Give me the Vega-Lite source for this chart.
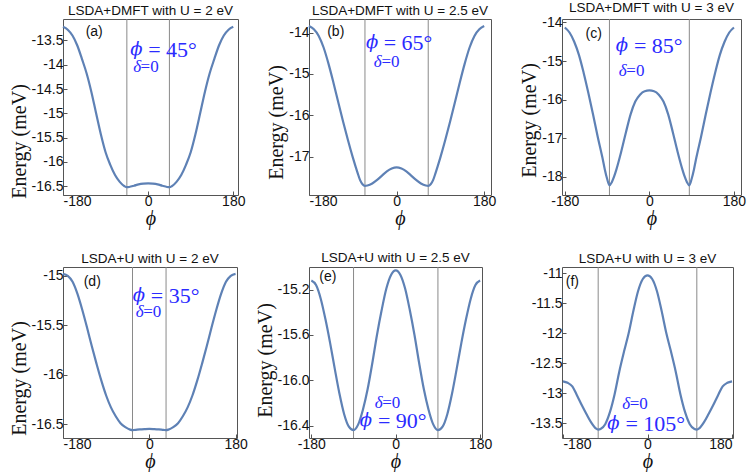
{
"$schema": "https://vega.github.io/schema/vega-lite/v6.json",
"background": "white",
"padding": {"left": 8, "top": 0, "right": 0, "bottom": 0},
"datasets": {"d": [
{"p":"a","k":"c","x":-180,"y":-13.22},{"p":"a","k":"c","x":-170,"y":-13.28},{"p":"a","k":"c","x":-160,"y":-13.40},{"p":"a","k":"c","x":-150,"y":-13.60},{"p":"a","k":"c","x":-140,"y":-13.88},{"p":"a","k":"c","x":-130,"y":-14.18},{"p":"a","k":"c","x":-120,"y":-14.56},{"p":"a","k":"c","x":-110,"y":-15.00},{"p":"a","k":"c","x":-100,"y":-15.43},{"p":"a","k":"c","x":-90,"y":-15.80},{"p":"a","k":"c","x":-80,"y":-16.06},{"p":"a","k":"c","x":-70,"y":-16.27},{"p":"a","k":"c","x":-60,"y":-16.41},{"p":"a","k":"c","x":-50,"y":-16.50},{"p":"a","k":"c","x":-45,"y":-16.52},{"p":"a","k":"c","x":-40,"y":-16.515},{"p":"a","k":"c","x":-30,"y":-16.49},{"p":"a","k":"c","x":-20,"y":-16.46},{"p":"a","k":"c","x":-10,"y":-16.445},{"p":"a","k":"c","x":0,"y":-16.44},{"p":"a","k":"c","x":10,"y":-16.445},{"p":"a","k":"c","x":20,"y":-16.46},{"p":"a","k":"c","x":30,"y":-16.49},{"p":"a","k":"c","x":40,"y":-16.515},{"p":"a","k":"c","x":45,"y":-16.52},{"p":"a","k":"c","x":50,"y":-16.50},{"p":"a","k":"c","x":60,"y":-16.41},{"p":"a","k":"c","x":70,"y":-16.27},{"p":"a","k":"c","x":80,"y":-16.06},{"p":"a","k":"c","x":90,"y":-15.80},{"p":"a","k":"c","x":100,"y":-15.43},{"p":"a","k":"c","x":110,"y":-15.00},{"p":"a","k":"c","x":120,"y":-14.56},{"p":"a","k":"c","x":130,"y":-14.18},{"p":"a","k":"c","x":140,"y":-13.88},{"p":"a","k":"c","x":150,"y":-13.60},{"p":"a","k":"c","x":160,"y":-13.40},{"p":"a","k":"c","x":170,"y":-13.28},{"p":"a","k":"c","x":180,"y":-13.22},
{"p":"b","k":"c","x":-180,"y":-13.84},{"p":"b","k":"c","x":-170,"y":-13.92},{"p":"b","k":"c","x":-160,"y":-14.08},{"p":"b","k":"c","x":-150,"y":-14.36},{"p":"b","k":"c","x":-140,"y":-14.75},{"p":"b","k":"c","x":-130,"y":-15.20},{"p":"b","k":"c","x":-120,"y":-15.68},{"p":"b","k":"c","x":-110,"y":-16.15},{"p":"b","k":"c","x":-100,"y":-16.60},{"p":"b","k":"c","x":-90,"y":-17.02},{"p":"b","k":"c","x":-80,"y":-17.40},{"p":"b","k":"c","x":-75,"y":-17.57},{"p":"b","k":"c","x":-70,"y":-17.67},{"p":"b","k":"c","x":-65,"y":-17.71},{"p":"b","k":"c","x":-60,"y":-17.70},{"p":"b","k":"c","x":-50,"y":-17.65},{"p":"b","k":"c","x":-40,"y":-17.565},{"p":"b","k":"c","x":-30,"y":-17.46},{"p":"b","k":"c","x":-20,"y":-17.36},{"p":"b","k":"c","x":-10,"y":-17.29},{"p":"b","k":"c","x":0,"y":-17.26},{"p":"b","k":"c","x":10,"y":-17.29},{"p":"b","k":"c","x":20,"y":-17.36},{"p":"b","k":"c","x":30,"y":-17.46},{"p":"b","k":"c","x":40,"y":-17.565},{"p":"b","k":"c","x":50,"y":-17.65},{"p":"b","k":"c","x":60,"y":-17.70},{"p":"b","k":"c","x":65,"y":-17.71},{"p":"b","k":"c","x":70,"y":-17.67},{"p":"b","k":"c","x":75,"y":-17.57},{"p":"b","k":"c","x":80,"y":-17.40},{"p":"b","k":"c","x":90,"y":-17.02},{"p":"b","k":"c","x":100,"y":-16.60},{"p":"b","k":"c","x":110,"y":-16.15},{"p":"b","k":"c","x":120,"y":-15.68},{"p":"b","k":"c","x":130,"y":-15.20},{"p":"b","k":"c","x":140,"y":-14.75},{"p":"b","k":"c","x":150,"y":-14.36},{"p":"b","k":"c","x":160,"y":-14.08},{"p":"b","k":"c","x":170,"y":-13.92},{"p":"b","k":"c","x":180,"y":-13.84},
{"p":"c","k":"c","x":-180,"y":-14.13},{"p":"c","k":"c","x":-170,"y":-14.26},{"p":"c","k":"c","x":-160,"y":-14.50},{"p":"c","k":"c","x":-150,"y":-14.84},{"p":"c","k":"c","x":-140,"y":-15.30},{"p":"c","k":"c","x":-130,"y":-15.82},{"p":"c","k":"c","x":-120,"y":-16.38},{"p":"c","k":"c","x":-110,"y":-16.96},{"p":"c","k":"c","x":-100,"y":-17.50},{"p":"c","k":"c","x":-95,"y":-17.80},{"p":"c","k":"c","x":-90,"y":-18.05},{"p":"c","k":"c","x":-85,"y":-18.22},{"p":"c","k":"c","x":-80,"y":-18.14},{"p":"c","k":"c","x":-75,"y":-17.99},{"p":"c","k":"c","x":-70,"y":-17.80},{"p":"c","k":"c","x":-60,"y":-17.35},{"p":"c","k":"c","x":-50,"y":-16.85},{"p":"c","k":"c","x":-40,"y":-16.38},{"p":"c","k":"c","x":-30,"y":-16.05},{"p":"c","k":"c","x":-20,"y":-15.87},{"p":"c","k":"c","x":-10,"y":-15.78},{"p":"c","k":"c","x":0,"y":-15.76},{"p":"c","k":"c","x":10,"y":-15.78},{"p":"c","k":"c","x":20,"y":-15.87},{"p":"c","k":"c","x":30,"y":-16.05},{"p":"c","k":"c","x":40,"y":-16.38},{"p":"c","k":"c","x":50,"y":-16.85},{"p":"c","k":"c","x":60,"y":-17.35},{"p":"c","k":"c","x":70,"y":-17.80},{"p":"c","k":"c","x":75,"y":-17.99},{"p":"c","k":"c","x":80,"y":-18.14},{"p":"c","k":"c","x":85,"y":-18.22},{"p":"c","k":"c","x":90,"y":-18.05},{"p":"c","k":"c","x":95,"y":-17.80},{"p":"c","k":"c","x":100,"y":-17.50},{"p":"c","k":"c","x":110,"y":-16.96},{"p":"c","k":"c","x":120,"y":-16.38},{"p":"c","k":"c","x":130,"y":-15.82},{"p":"c","k":"c","x":140,"y":-15.30},{"p":"c","k":"c","x":150,"y":-14.84},{"p":"c","k":"c","x":160,"y":-14.50},{"p":"c","k":"c","x":170,"y":-14.26},{"p":"c","k":"c","x":180,"y":-14.13},
{"p":"d","k":"c","x":-180,"y":-14.98},{"p":"d","k":"c","x":-170,"y":-15.00},{"p":"d","k":"c","x":-160,"y":-15.06},{"p":"d","k":"c","x":-150,"y":-15.18},{"p":"d","k":"c","x":-140,"y":-15.34},{"p":"d","k":"c","x":-130,"y":-15.52},{"p":"d","k":"c","x":-120,"y":-15.71},{"p":"d","k":"c","x":-110,"y":-15.89},{"p":"d","k":"c","x":-100,"y":-16.06},{"p":"d","k":"c","x":-90,"y":-16.21},{"p":"d","k":"c","x":-80,"y":-16.33},{"p":"d","k":"c","x":-70,"y":-16.42},{"p":"d","k":"c","x":-60,"y":-16.49},{"p":"d","k":"c","x":-50,"y":-16.53},{"p":"d","k":"c","x":-40,"y":-16.555},{"p":"d","k":"c","x":-35,"y":-16.56},{"p":"d","k":"c","x":-30,"y":-16.558},{"p":"d","k":"c","x":-20,"y":-16.553},{"p":"d","k":"c","x":-10,"y":-16.55},{"p":"d","k":"c","x":0,"y":-16.548},{"p":"d","k":"c","x":10,"y":-16.55},{"p":"d","k":"c","x":20,"y":-16.553},{"p":"d","k":"c","x":30,"y":-16.558},{"p":"d","k":"c","x":35,"y":-16.56},{"p":"d","k":"c","x":40,"y":-16.555},{"p":"d","k":"c","x":50,"y":-16.53},{"p":"d","k":"c","x":60,"y":-16.49},{"p":"d","k":"c","x":70,"y":-16.42},{"p":"d","k":"c","x":80,"y":-16.33},{"p":"d","k":"c","x":90,"y":-16.21},{"p":"d","k":"c","x":100,"y":-16.06},{"p":"d","k":"c","x":110,"y":-15.89},{"p":"d","k":"c","x":120,"y":-15.71},{"p":"d","k":"c","x":130,"y":-15.52},{"p":"d","k":"c","x":140,"y":-15.34},{"p":"d","k":"c","x":150,"y":-15.18},{"p":"d","k":"c","x":160,"y":-15.06},{"p":"d","k":"c","x":170,"y":-15.00},{"p":"d","k":"c","x":180,"y":-14.98},
{"p":"e","k":"c","x":-180,"y":-15.12},{"p":"e","k":"c","x":-170,"y":-15.16},{"p":"e","k":"c","x":-160,"y":-15.28},{"p":"e","k":"c","x":-150,"y":-15.46},{"p":"e","k":"c","x":-140,"y":-15.67},{"p":"e","k":"c","x":-130,"y":-15.90},{"p":"e","k":"c","x":-120,"y":-16.12},{"p":"e","k":"c","x":-110,"y":-16.30},{"p":"e","k":"c","x":-100,"y":-16.41},{"p":"e","k":"c","x":-90,"y":-16.44},{"p":"e","k":"c","x":-80,"y":-16.39},{"p":"e","k":"c","x":-70,"y":-16.26},{"p":"e","k":"c","x":-60,"y":-16.08},{"p":"e","k":"c","x":-50,"y":-15.85},{"p":"e","k":"c","x":-40,"y":-15.60},{"p":"e","k":"c","x":-30,"y":-15.38},{"p":"e","k":"c","x":-20,"y":-15.19},{"p":"e","k":"c","x":-10,"y":-15.07},{"p":"e","k":"c","x":0,"y":-15.03},{"p":"e","k":"c","x":10,"y":-15.07},{"p":"e","k":"c","x":20,"y":-15.19},{"p":"e","k":"c","x":30,"y":-15.38},{"p":"e","k":"c","x":40,"y":-15.60},{"p":"e","k":"c","x":50,"y":-15.85},{"p":"e","k":"c","x":60,"y":-16.08},{"p":"e","k":"c","x":70,"y":-16.26},{"p":"e","k":"c","x":80,"y":-16.39},{"p":"e","k":"c","x":90,"y":-16.44},{"p":"e","k":"c","x":100,"y":-16.41},{"p":"e","k":"c","x":110,"y":-16.30},{"p":"e","k":"c","x":120,"y":-16.12},{"p":"e","k":"c","x":130,"y":-15.90},{"p":"e","k":"c","x":140,"y":-15.67},{"p":"e","k":"c","x":150,"y":-15.46},{"p":"e","k":"c","x":160,"y":-15.28},{"p":"e","k":"c","x":170,"y":-15.16},{"p":"e","k":"c","x":180,"y":-15.12},
{"p":"f","k":"c","x":-180,"y":-12.805},{"p":"f","k":"c","x":-170,"y":-12.83},{"p":"f","k":"c","x":-160,"y":-12.89},{"p":"f","k":"c","x":-150,"y":-13.04},{"p":"f","k":"c","x":-140,"y":-13.20},{"p":"f","k":"c","x":-130,"y":-13.35},{"p":"f","k":"c","x":-120,"y":-13.49},{"p":"f","k":"c","x":-110,"y":-13.59},{"p":"f","k":"c","x":-105,"y":-13.61},{"p":"f","k":"c","x":-100,"y":-13.60},{"p":"f","k":"c","x":-90,"y":-13.52},{"p":"f","k":"c","x":-80,"y":-13.32},{"p":"f","k":"c","x":-70,"y":-13.02},{"p":"f","k":"c","x":-60,"y":-12.64},{"p":"f","k":"c","x":-50,"y":-12.31},{"p":"f","k":"c","x":-40,"y":-12.00},{"p":"f","k":"c","x":-30,"y":-11.63},{"p":"f","k":"c","x":-20,"y":-11.30},{"p":"f","k":"c","x":-10,"y":-11.10},{"p":"f","k":"c","x":0,"y":-11.04},{"p":"f","k":"c","x":10,"y":-11.10},{"p":"f","k":"c","x":20,"y":-11.30},{"p":"f","k":"c","x":30,"y":-11.63},{"p":"f","k":"c","x":40,"y":-12.00},{"p":"f","k":"c","x":50,"y":-12.31},{"p":"f","k":"c","x":60,"y":-12.64},{"p":"f","k":"c","x":70,"y":-13.02},{"p":"f","k":"c","x":80,"y":-13.32},{"p":"f","k":"c","x":90,"y":-13.52},{"p":"f","k":"c","x":100,"y":-13.60},{"p":"f","k":"c","x":105,"y":-13.61},{"p":"f","k":"c","x":110,"y":-13.59},{"p":"f","k":"c","x":120,"y":-13.49},{"p":"f","k":"c","x":130,"y":-13.35},{"p":"f","k":"c","x":140,"y":-13.20},{"p":"f","k":"c","x":150,"y":-13.04},{"p":"f","k":"c","x":160,"y":-12.89},{"p":"f","k":"c","x":170,"y":-12.83},{"p":"f","k":"c","x":180,"y":-12.805},
{"p":"a","k":"v","x":-45,"y":-16.68,"y2":-13.06},{"p":"a","k":"v","x":45,"y":-16.68,"y2":-13.06},
{"p":"b","k":"v","x":-65,"y":-17.93,"y2":-13.67},{"p":"b","k":"v","x":65,"y":-17.93,"y2":-13.67},
{"p":"c","k":"v","x":-85,"y":-18.47,"y2":-13.91},{"p":"c","k":"v","x":85,"y":-18.47,"y2":-13.91},
{"p":"d","k":"v","x":-35,"y":-16.64,"y2":-14.91},{"p":"d","k":"v","x":35,"y":-16.64,"y2":-14.91},
{"p":"e","k":"v","x":-90,"y":-16.51,"y2":-15.0},{"p":"e","k":"v","x":90,"y":-16.51,"y2":-15.0},
{"p":"f","k":"v","x":-105,"y":-13.75,"y2":-10.90},{"p":"f","k":"v","x":105,"y":-13.75,"y2":-10.90},
{"p":"a","k":"l","x":-114,"y":-13.33,"t":"(a)"},{"p":"a","k":"ps","x":-38,"y":-13.69,"t":"ϕ"},{"p":"a","k":"pr","x":0,"y":-13.69,"t":"= 45°"},{"p":"a","k":"ds","x":-31.6,"y":-14.05,"t":"δ"},{"p":"a","k":"dr","x":-16,"y":-14.05,"t":"=0"},
{"p":"b","k":"l","x":-125,"y":-13.99,"t":"(b)"},{"p":"b","k":"ps","x":-63,"y":-14.26,"t":"ϕ"},{"p":"b","k":"pr","x":-26.6,"y":-14.26,"t":"= 65°"},{"p":"b","k":"ds","x":-47,"y":-14.71,"t":"δ"},{"p":"b","k":"dr","x":-31,"y":-14.71,"t":"=0"},
{"p":"c","k":"l","x":-118.6,"y":-14.30,"t":"(c)"},{"p":"c","k":"ps","x":-71.5,"y":-14.60,"t":"ϕ"},{"p":"c","k":"pr","x":-33,"y":-14.60,"t":"= 85°"},{"p":"c","k":"ds","x":-65,"y":-15.26,"t":"δ"},{"p":"c","k":"dr","x":-49,"y":-15.26,"t":"=0"},
{"p":"d","k":"l","x":-119,"y":-15.06,"t":"(d)"},{"p":"d","k":"ps","x":-34.5,"y":-15.20,"t":"ϕ"},{"p":"d","k":"pr","x":3,"y":-15.20,"t":"= 35°"},{"p":"d","k":"ds","x":-28.3,"y":-15.37,"t":"δ"},{"p":"d","k":"dr","x":-12.6,"y":-15.37,"t":"=0"},
{"p":"e","k":"l","x":-144.8,"y":-15.09,"t":"(e)"},{"p":"e","k":"ds","x":-45,"y":-16.20,"t":"δ"},{"p":"e","k":"dr","x":-29,"y":-16.20,"t":"=0"},{"p":"e","k":"ps","x":-76.5,"y":-16.36,"t":"ϕ"},{"p":"e","k":"pr","x":-38,"y":-16.36,"t":"= 90°"},
{"p":"f","k":"l","x":-160,"y":-11.15,"t":"(f)"},{"p":"f","k":"ds","x":-54,"y":-13.19,"t":"δ"},{"p":"f","k":"dr","x":-38,"y":-13.19,"t":"=0"},{"p":"f","k":"ps","x":-85.5,"y":-13.52,"t":"ϕ"},{"p":"f","k":"pr","x":-47,"y":-13.52,"t":"= 105°"}
]},
"data": {"name": "d"},
"columns": 3,
"spacing": {"row": 72, "column": 71},
"bounds": "flush",
"concat": [
{"title": "LSDA+DMFT with U = 2 eV", "width": 175, "height": 176,
 "transform": [{"filter": "datum.p=='a'"}],
 "encoding": {"x": {"field": "x", "type": "quantitative", "scale": {"domain": [-180, 190], "nice": false, "zero": false}, "axis": {"values": [-180, 0, 180], "title": "ϕ"}},
  "y": {"field": "y", "type": "quantitative", "scale": {"domain": [-16.68, -13.06], "nice": false, "zero": false}, "axis": {"values": [-13.5, -14, -14.5, -15, -15.5, -16, -16.5], "format": "~g", "title": "Energy (meV)", "titleY": 122}}},
 "layer": [
  {"transform": [{"filter": "datum.k=='v'"}], "mark": {"type": "rule", "color": "#8a8a8a", "strokeWidth": 1}, "encoding": {"y2": {"field": "y2"}}},
  {"transform": [{"filter": "datum.k=='c'"}], "mark": {"type": "line", "interpolate": "monotone", "color": "#5E81B5", "strokeWidth": 2.2}},
  {"transform": [{"filter": "datum.k=='l'"}], "mark": {"type": "text", "font": "Liberation Sans", "fontSize": 14, "color": "#111111"}, "encoding": {"text": {"field": "t", "type": "nominal"}}},
  {"transform": [{"filter": "datum.k=='ps'"}], "mark": {"type": "text", "font": "DejaVu Serif", "fontStyle": "italic", "fontSize": 18, "color": "#2b2bff", "align": "left"}, "encoding": {"text": {"field": "t", "type": "nominal"}}},
  {"transform": [{"filter": "datum.k=='pr'"}], "mark": {"type": "text", "font": "Liberation Serif", "fontSize": 22, "color": "#2b2bff", "align": "left"}, "encoding": {"text": {"field": "t", "type": "nominal"}}},
  {"transform": [{"filter": "datum.k=='ds'"}], "mark": {"type": "text", "font": "Liberation Serif", "fontStyle": "italic", "fontSize": 17, "color": "#2b2bff", "align": "left"}, "encoding": {"text": {"field": "t", "type": "nominal"}}},
  {"transform": [{"filter": "datum.k=='dr'"}], "mark": {"type": "text", "font": "Liberation Serif", "fontSize": 17, "color": "#2b2bff", "align": "left"}, "encoding": {"text": {"field": "t", "type": "nominal"}}}
 ]},
{"title": "LSDA+DMFT with U = 2.5 eV", "width": 182, "height": 176,
 "transform": [{"filter": "datum.p=='b'"}],
 "encoding": {"x": {"field": "x", "type": "quantitative", "scale": {"domain": [-180, 194], "nice": false, "zero": false}, "axis": {"values": [-180, 0, 180], "title": "ϕ"}},
  "y": {"field": "y", "type": "quantitative", "scale": {"domain": [-17.93, -13.67], "nice": false, "zero": false}, "axis": {"values": [-14, -15, -16, -17], "format": "~g", "title": "Energy (meV)", "titleY": 103}}},
 "layer": [
  {"transform": [{"filter": "datum.k=='v'"}], "mark": {"type": "rule", "color": "#8a8a8a", "strokeWidth": 1}, "encoding": {"y2": {"field": "y2"}}},
  {"transform": [{"filter": "datum.k=='c'"}], "mark": {"type": "line", "interpolate": "monotone", "color": "#5E81B5", "strokeWidth": 2.2}},
  {"transform": [{"filter": "datum.k=='l'"}], "mark": {"type": "text", "font": "Liberation Sans", "fontSize": 14, "color": "#111111"}, "encoding": {"text": {"field": "t", "type": "nominal"}}},
  {"transform": [{"filter": "datum.k=='ps'"}], "mark": {"type": "text", "font": "DejaVu Serif", "fontStyle": "italic", "fontSize": 18, "color": "#2b2bff", "align": "left"}, "encoding": {"text": {"field": "t", "type": "nominal"}}},
  {"transform": [{"filter": "datum.k=='pr'"}], "mark": {"type": "text", "font": "Liberation Serif", "fontSize": 22, "color": "#2b2bff", "align": "left"}, "encoding": {"text": {"field": "t", "type": "nominal"}}},
  {"transform": [{"filter": "datum.k=='ds'"}], "mark": {"type": "text", "font": "Liberation Serif", "fontStyle": "italic", "fontSize": 17, "color": "#2b2bff", "align": "left"}, "encoding": {"text": {"field": "t", "type": "nominal"}}},
  {"transform": [{"filter": "datum.k=='dr'"}], "mark": {"type": "text", "font": "Liberation Serif", "fontSize": 17, "color": "#2b2bff", "align": "left"}, "encoding": {"text": {"field": "t", "type": "nominal"}}}
 ]},
{"title": "LSDA+DMFT with U = 3 eV", "width": 179, "height": 176,
 "transform": [{"filter": "datum.p=='c'"}],
 "encoding": {"x": {"field": "x", "type": "quantitative", "scale": {"domain": [-186, 195], "nice": false, "zero": false}, "axis": {"values": [-180, 0, 180], "title": "ϕ"}},
  "y": {"field": "y", "type": "quantitative", "scale": {"domain": [-18.47, -13.91], "nice": false, "zero": false}, "axis": {"values": [-14, -15, -16, -17, -18], "format": "~g", "title": "Energy (meV)", "titleY": 101}}},
 "layer": [
  {"transform": [{"filter": "datum.k=='v'"}], "mark": {"type": "rule", "color": "#8a8a8a", "strokeWidth": 1}, "encoding": {"y2": {"field": "y2"}}},
  {"transform": [{"filter": "datum.k=='c'"}], "mark": {"type": "line", "interpolate": "monotone", "color": "#5E81B5", "strokeWidth": 2.2}},
  {"transform": [{"filter": "datum.k=='l'"}], "mark": {"type": "text", "font": "Liberation Sans", "fontSize": 14, "color": "#111111"}, "encoding": {"text": {"field": "t", "type": "nominal"}}},
  {"transform": [{"filter": "datum.k=='ps'"}], "mark": {"type": "text", "font": "DejaVu Serif", "fontStyle": "italic", "fontSize": 18, "color": "#2b2bff", "align": "left"}, "encoding": {"text": {"field": "t", "type": "nominal"}}},
  {"transform": [{"filter": "datum.k=='pr'"}], "mark": {"type": "text", "font": "Liberation Serif", "fontSize": 22, "color": "#2b2bff", "align": "left"}, "encoding": {"text": {"field": "t", "type": "nominal"}}},
  {"transform": [{"filter": "datum.k=='ds'"}], "mark": {"type": "text", "font": "Liberation Serif", "fontStyle": "italic", "fontSize": 17, "color": "#2b2bff", "align": "left"}, "encoding": {"text": {"field": "t", "type": "nominal"}}},
  {"transform": [{"filter": "datum.k=='dr'"}], "mark": {"type": "text", "font": "Liberation Serif", "fontSize": 17, "color": "#2b2bff", "align": "left"}, "encoding": {"text": {"field": "t", "type": "nominal"}}}
 ]},
{"title": "LSDA+U with U = 2 eV", "width": 174, "height": 171,
 "transform": [{"filter": "datum.p=='d'"}],
 "encoding": {"x": {"field": "x", "type": "quantitative", "scale": {"domain": [-180, 183], "nice": false, "zero": false}, "axis": {"values": [-180, 0, 180], "title": "ϕ"}},
  "y": {"field": "y", "type": "quantitative", "scale": {"domain": [-16.64, -14.91], "nice": false, "zero": false}, "axis": {"values": [-15, -15.5, -16, -16.5], "format": "~g", "title": "Energy (meV)", "titleY": 111}}},
 "layer": [
  {"transform": [{"filter": "datum.k=='v'"}], "mark": {"type": "rule", "color": "#8a8a8a", "strokeWidth": 1}, "encoding": {"y2": {"field": "y2"}}},
  {"transform": [{"filter": "datum.k=='c'"}], "mark": {"type": "line", "interpolate": "monotone", "color": "#5E81B5", "strokeWidth": 2.2}},
  {"transform": [{"filter": "datum.k=='l'"}], "mark": {"type": "text", "font": "Liberation Sans", "fontSize": 14, "color": "#111111"}, "encoding": {"text": {"field": "t", "type": "nominal"}}},
  {"transform": [{"filter": "datum.k=='ps'"}], "mark": {"type": "text", "font": "DejaVu Serif", "fontStyle": "italic", "fontSize": 18, "color": "#2b2bff", "align": "left"}, "encoding": {"text": {"field": "t", "type": "nominal"}}},
  {"transform": [{"filter": "datum.k=='pr'"}], "mark": {"type": "text", "font": "Liberation Serif", "fontSize": 22, "color": "#2b2bff", "align": "left"}, "encoding": {"text": {"field": "t", "type": "nominal"}}},
  {"transform": [{"filter": "datum.k=='ds'"}], "mark": {"type": "text", "font": "Liberation Serif", "fontStyle": "italic", "fontSize": 17, "color": "#2b2bff", "align": "left"}, "encoding": {"text": {"field": "t", "type": "nominal"}}},
  {"transform": [{"filter": "datum.k=='dr'"}], "mark": {"type": "text", "font": "Liberation Serif", "fontSize": 17, "color": "#2b2bff", "align": "left"}, "encoding": {"text": {"field": "t", "type": "nominal"}}}
 ]},
{"title": "LSDA+U with U = 2.5 eV", "width": 173, "height": 171,
 "transform": [{"filter": "datum.p=='e'"}],
 "encoding": {"x": {"field": "x", "type": "quantitative", "scale": {"domain": [-185, 184], "nice": false, "zero": false}, "axis": {"values": [-180, 0, 180], "title": "ϕ"}},
  "y": {"field": "y", "type": "quantitative", "scale": {"domain": [-16.51, -15.0], "nice": false, "zero": false}, "axis": {"values": [-15.2, -15.6, -16.0, -16.4], "format": ".1f", "title": "Energy (meV)", "titleY": 93}}},
 "layer": [
  {"transform": [{"filter": "datum.k=='v'"}], "mark": {"type": "rule", "color": "#8a8a8a", "strokeWidth": 1}, "encoding": {"y2": {"field": "y2"}}},
  {"transform": [{"filter": "datum.k=='c'"}], "mark": {"type": "line", "interpolate": "monotone", "color": "#5E81B5", "strokeWidth": 2.2}},
  {"transform": [{"filter": "datum.k=='l'"}], "mark": {"type": "text", "font": "Liberation Sans", "fontSize": 14, "color": "#111111"}, "encoding": {"text": {"field": "t", "type": "nominal"}}},
  {"transform": [{"filter": "datum.k=='ps'"}], "mark": {"type": "text", "font": "DejaVu Serif", "fontStyle": "italic", "fontSize": 18, "color": "#2b2bff", "align": "left"}, "encoding": {"text": {"field": "t", "type": "nominal"}}},
  {"transform": [{"filter": "datum.k=='pr'"}], "mark": {"type": "text", "font": "Liberation Serif", "fontSize": 22, "color": "#2b2bff", "align": "left"}, "encoding": {"text": {"field": "t", "type": "nominal"}}},
  {"transform": [{"filter": "datum.k=='ds'"}], "mark": {"type": "text", "font": "Liberation Serif", "fontStyle": "italic", "fontSize": 17, "color": "#2b2bff", "align": "left"}, "encoding": {"text": {"field": "t", "type": "nominal"}}},
  {"transform": [{"filter": "datum.k=='dr'"}], "mark": {"type": "text", "font": "Liberation Serif", "fontSize": 17, "color": "#2b2bff", "align": "left"}, "encoding": {"text": {"field": "t", "type": "nominal"}}}
 ]},
{"title": "LSDA+U with U = 3 eV", "width": 171, "height": 171,
 "transform": [{"filter": "datum.p=='f'"}],
 "encoding": {"x": {"field": "x", "type": "quantitative", "scale": {"domain": [-182, 182], "nice": false, "zero": false}, "axis": {"values": [-180, 0, 180], "title": "ϕ"}},
  "y": {"field": "y", "type": "quantitative", "scale": {"domain": [-13.75, -10.90], "nice": false, "zero": false}, "axis": {"values": [-11, -11.5, -12, -12.5, -13, -13.5], "format": "~g", "title": null}}},
 "layer": [
  {"transform": [{"filter": "datum.k=='v'"}], "mark": {"type": "rule", "color": "#8a8a8a", "strokeWidth": 1}, "encoding": {"y2": {"field": "y2"}}},
  {"transform": [{"filter": "datum.k=='c'"}], "mark": {"type": "line", "interpolate": "monotone", "color": "#5E81B5", "strokeWidth": 2.2}},
  {"transform": [{"filter": "datum.k=='l'"}], "mark": {"type": "text", "font": "Liberation Sans", "fontSize": 14, "color": "#111111"}, "encoding": {"text": {"field": "t", "type": "nominal"}}},
  {"transform": [{"filter": "datum.k=='ps'"}], "mark": {"type": "text", "font": "DejaVu Serif", "fontStyle": "italic", "fontSize": 18, "color": "#2b2bff", "align": "left"}, "encoding": {"text": {"field": "t", "type": "nominal"}}},
  {"transform": [{"filter": "datum.k=='pr'"}], "mark": {"type": "text", "font": "Liberation Serif", "fontSize": 22, "color": "#2b2bff", "align": "left"}, "encoding": {"text": {"field": "t", "type": "nominal"}}},
  {"transform": [{"filter": "datum.k=='ds'"}], "mark": {"type": "text", "font": "Liberation Serif", "fontStyle": "italic", "fontSize": 17, "color": "#2b2bff", "align": "left"}, "encoding": {"text": {"field": "t", "type": "nominal"}}},
  {"transform": [{"filter": "datum.k=='dr'"}], "mark": {"type": "text", "font": "Liberation Serif", "fontSize": 17, "color": "#2b2bff", "align": "left"}, "encoding": {"text": {"field": "t", "type": "nominal"}}}
 ]}
],
"config": {
 "view": {"stroke": "#555555", "strokeWidth": 1},
 "axis": {"grid": false, "domain": false, "labelFont": "Liberation Sans", "labelFontSize": 14, "labelColor": "#111111", "tickColor": "#555555", "tickSize": -4, "titleFont": "Liberation Serif", "titleFontWeight": "normal", "titleColor": "#111111", "titleFontSize": 20, "labelExpr": "replace(datum.label, '−', '-')"},
 "axisX": {"titleFontStyle": "italic", "titlePadding": 0, "labelPadding": 3},
 "axisY": {"titlePadding": 2, "labelPadding": 4},
 "title": {"font": "Liberation Sans", "fontSize": 13.5, "fontWeight": "normal", "color": "#111111", "offset": 1, "frame": "group", "anchor": "middle"}
}
}
